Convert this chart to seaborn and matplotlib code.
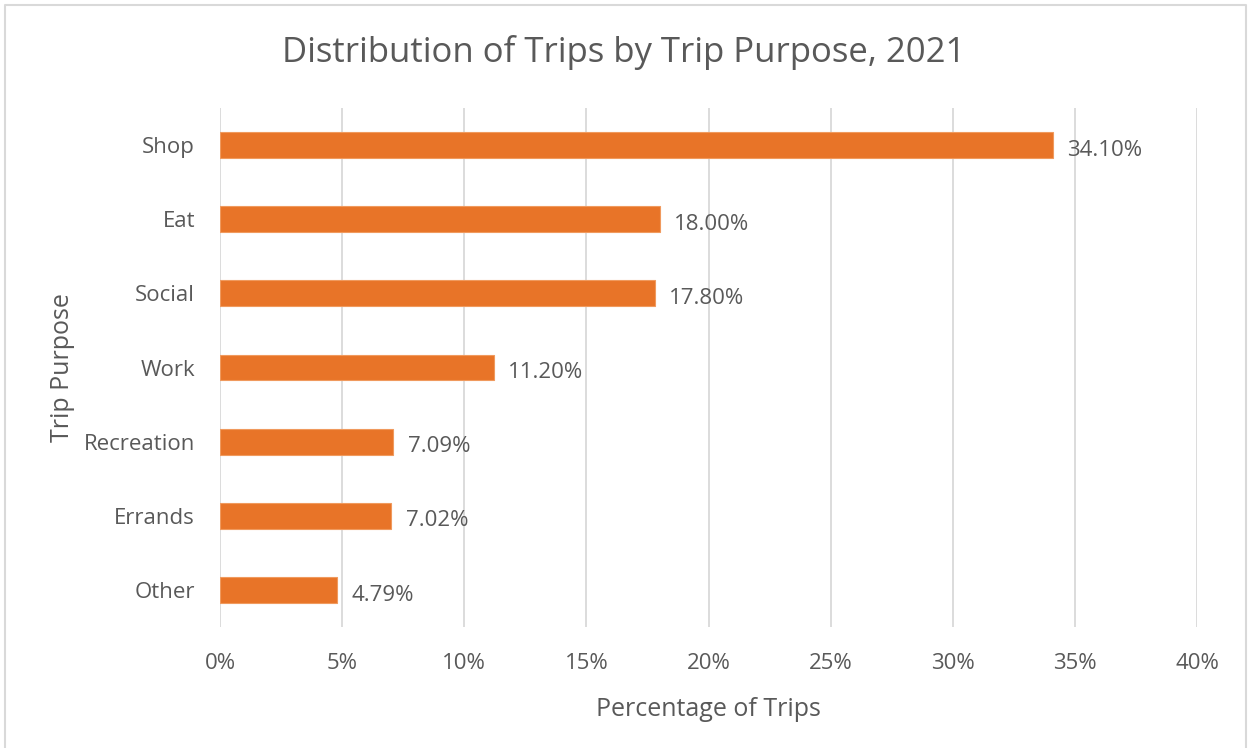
import matplotlib
matplotlib.use("Agg")
import matplotlib.pyplot as plt
from matplotlib.lines import Line2D
import seaborn as sns
import pandas as pd

purposes = ["Shop", "Eat", "Social", "Work", "Recreation", "Errands", "Other"]
shares = [34.10, 18.00, 17.80, 11.20, 7.09, 7.02, 4.79]
x_ticks = [0, 5, 10, 15, 20, 25, 30, 35, 40]

df = pd.DataFrame({"purpose": purposes, "share": shares})

sns.set_theme(style="white")
plt.rcParams["font.family"] = ["Open Sans", "DejaVu Sans"]

text_color = "#595959"
bar_color = "#E87428"
grid_color = "#D9D9D9"

fig = plt.figure(figsize=(12.48, 7.48), dpi=100)
ax = fig.add_axes([220 / 1248, 1 - 627 / 748, (1197 - 220) / 1248, (627 - 108) / 748])

sns.barplot(data=df, y="purpose", x="share", orient="h", color=bar_color,
            width=0.35, edgecolor="#F09A5E", linewidth=0.8, saturation=1, ax=ax)

ax.set_xlim(0, 40)
ax.set_xticks(x_ticks)
ax.set_xticklabels([f"{t}%" for t in x_ticks])
ax.xaxis.grid(True, color=grid_color, linewidth=1.3)
ax.set_axisbelow(True)
for s in ax.spines.values():
    s.set_visible(False)
ax.tick_params(axis="both", length=0, colors=text_color, labelsize=16)
ax.tick_params(axis="x", pad=19)
ax.tick_params(axis="y", pad=18)

for i, v in enumerate(shares):
    ax.text(v + 0.6, i + 0.07, f"{v:.2f}%", va="center", ha="left",
            fontsize=16, color=text_color)

ax.set_xlabel("Percentage of Trips", fontsize=18, color=text_color, labelpad=16)
ax.set_ylabel("Trip Purpose", fontsize=18, color=text_color, labelpad=6)

fig.text(0.5, 1 - 53 / 748, "Distribution of Trips by Trip Purpose, 2021",
         ha="center", va="center", fontsize=25, color=text_color)

# light frame around the chart area (open at the bottom edge)
frame_x = [5 / 1248, 5 / 1248, 1246 / 1248, 1246 / 1248]
frame_y = [0, 1 - 5 / 748, 1 - 5 / 748, 0]
fig.lines.append(Line2D(frame_x, frame_y, transform=fig.transFigure,
                        color="#D9D9D9", linewidth=1.5))

fig.savefig("out.png", dpi=100, facecolor="white")
